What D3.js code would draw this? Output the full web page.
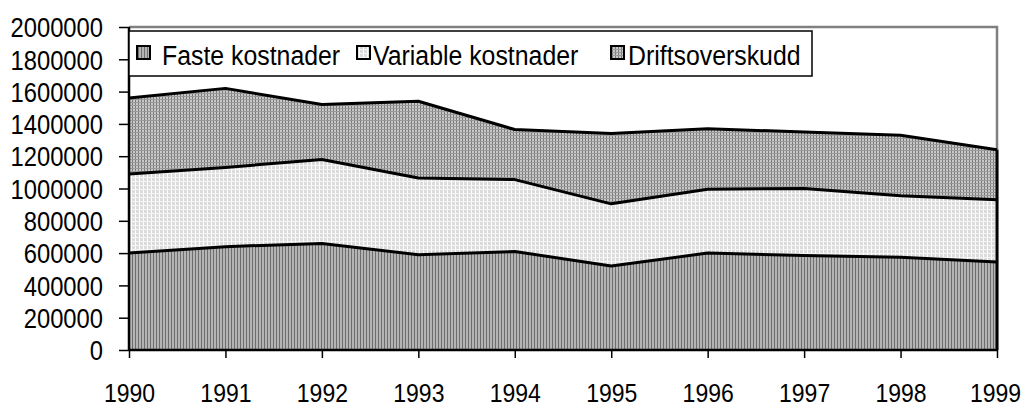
<!DOCTYPE html>
<html>
<head>
<meta charset="utf-8">
<script src="https://cdn.jsdelivr.net/npm/d3@7"></script>
<style>
  body { margin: 0; background: #fff; }
  text { font-family: "Liberation Sans", Arial, sans-serif; fill: #000; }
</style>
</head>
<body>
<div id="chart"></div>
<script>
// data
const years = [1990, 1991, 1992, 1993, 1994, 1995, 1996, 1997, 1998, 1999];
const faste = [600000, 640000, 660000, 590000, 610000, 520000, 600000, 585000, 575000, 545000];
const variable = [490000, 490000, 520000, 475000, 445000, 385000, 395000, 415000, 380000, 385000];
const drift = [470000, 490000, 340000, 475000, 310000, 435000, 375000, 350000, 375000, 310000];
const seriesNames = ['Faste kostnader', 'Variable kostnader', 'Driftsoverskudd'];
const yTicks = [0, 200000, 400000, 600000, 800000, 1000000, 1200000, 1400000, 1600000, 1800000, 2000000];

const W = 1026, H = 407;
const margin = {top: 27, right: 29, bottom: 57, left: 129};
const width = W - margin.left - margin.right,
      height = H - margin.top - margin.bottom;
const fontSize = '27px';

// the original font is a narrow one, so squeeze the glyphs horizontally
function squeeze(sel, f) {
    sel.each(function() {
        const len = this.getComputedTextLength();
        d3.select(this).attr('textLength', len * f).attr('lengthAdjust', 'spacingAndGlyphs');
    });
}

const svg = d3.select('#chart').append('svg')
    .attr('width', W).attr('height', H);

// fill patterns
const defs = svg.append('defs');
let p = defs.append('pattern').attr('id', 'pat0').attr('patternUnits', 'userSpaceOnUse')
    .attr('width', 3).attr('height', 3);
p.append('rect').attr('width', 3).attr('height', 3).attr('fill', '#b4b4b4');
p.append('rect').attr('x', 0).attr('width', 1).attr('height', 3).attr('fill', '#6e6e6e');

p = defs.append('pattern').attr('id', 'pat1').attr('patternUnits', 'userSpaceOnUse')
    .attr('width', 4).attr('height', 4);
p.append('rect').attr('width', 4).attr('height', 4).attr('fill', '#dcdcdc');
p.append('rect').attr('x', 2).attr('width', 1).attr('height', 4).attr('fill', '#ffffff');
p.append('rect').attr('y', 2).attr('width', 4).attr('height', 1).attr('fill', '#f4f4f4');

p = defs.append('pattern').attr('id', 'pat2').attr('patternUnits', 'userSpaceOnUse')
    .attr('width', 3).attr('height', 3);
p.append('rect').attr('width', 3).attr('height', 3).attr('fill', '#c8c8c8');
p.append('rect').attr('x', 0).attr('width', 1).attr('height', 3).attr('fill', '#7a7a7a');
p.append('rect').attr('y', 0).attr('width', 3).attr('height', 1).attr('fill', '#9a9a9a');

const g = svg.append('g').attr('transform', 'translate(' + margin.left + ',' + margin.top + ')');

const x = d3.scaleLinear().domain([years[0], years[years.length - 1]]).range([0, width]);
const y = d3.scaleLinear().domain([0, 2000000]).range([height, 0]);

const table = years.map(function(yr, i) {
    return {year: yr, f: faste[i], v: variable[i], d: drift[i]};
});
const stack = d3.stack().keys(['f', 'v', 'd'])(table);

// plot frame (grey top and right)
g.append('path')
    .attr('d', 'M0,0H' + width + 'V' + height)
    .attr('fill', 'none').attr('stroke', '#808080').attr('stroke-width', 2.5);

const area = d3.area()
    .x(function(d) { return x(d.data.year); })
    .y0(function(d) { return y(d[0]); })
    .y1(function(d) { return y(d[1]); });
const line = d3.line()
    .x(function(d) { return x(d.data.year); })
    .y(function(d) { return y(d[1]); });

g.selectAll('.area').data(stack).enter().append('path')
    .attr('class', 'area')
    .attr('fill', function(d, i) { return 'url(#pat' + i + ')'; })
    .attr('d', area);

g.selectAll('.edge').data(stack).enter().append('path')
    .attr('class', 'edge')
    .attr('fill', 'none').attr('stroke', '#000').attr('stroke-width', 3)
    .attr('stroke-linejoin', 'round')
    .attr('d', line);

// right edge of the area
g.append('line')
    .attr('x1', width).attr('x2', width)
    .attr('y1', y(0)).attr('y2', y(stack[2][years.length - 1][1]))
    .attr('stroke', '#000').attr('stroke-width', 3);

// axes
const yAxis = g.append('g')
    .call(d3.axisLeft(y).tickValues(yTicks).tickSize(10).tickPadding(16).tickFormat(d3.format('d')));
const xAxis = g.append('g').attr('transform', 'translate(0,' + height + ')')
    .call(d3.axisBottom(x).tickValues(years).tickSize(8).tickPadding(26).tickFormat(d3.format('d')));

[yAxis, xAxis].forEach(function(a) {
    a.attr('font-family', null).attr('font-size', null);
    a.select('.domain').attr('stroke', '#000').attr('stroke-width', 2.5);
    a.selectAll('.tick line').attr('stroke', '#000').attr('stroke-width', 1.5);
    a.selectAll('.tick text').attr('fill', '#000');
});
yAxis.selectAll('.tick text').style('font-size', fontSize).attr('dy', '0.36em');
xAxis.selectAll('.tick text').style('font-size', '25px');
squeeze(yAxis.selectAll('.tick text'), 0.88);
squeeze(xAxis.selectAll('.tick text'), 0.92);
// keep the last year label inside the page
xAxis.selectAll('.tick text').filter(function(d) { return d === years[years.length - 1]; })
    .attr('dx', -2);
xAxis.select('.domain').attr('d', 'M0,0H' + width);
yAxis.select('.domain').attr('d', 'M0,0V' + height);

// legend
const leg = svg.append('g').attr('transform', 'translate(' + margin.left + ',31)');
leg.append('rect').attr('x', 0).attr('y', 0).attr('width', 683).attr('height', 45)
    .attr('fill', '#fff').attr('stroke', '#000').attr('stroke-width', 1.5);
const legSwatchX = [8, 228, 482];
const legTextX = [33, 244, 499];
seriesNames.forEach(function(name, i) {
    leg.append('rect').attr('x', legSwatchX[i]).attr('y', 15).attr('width', 13).attr('height', 13)
        .attr('fill', 'url(#pat' + i + ')').attr('stroke', '#000').attr('stroke-width', 2);
    leg.append('text').attr('x', legTextX[i]).attr('y', 34)
        .style('font-size', fontSize).text(name)
        .call(squeeze, 0.92);
});
</script>
</body>
</html>
